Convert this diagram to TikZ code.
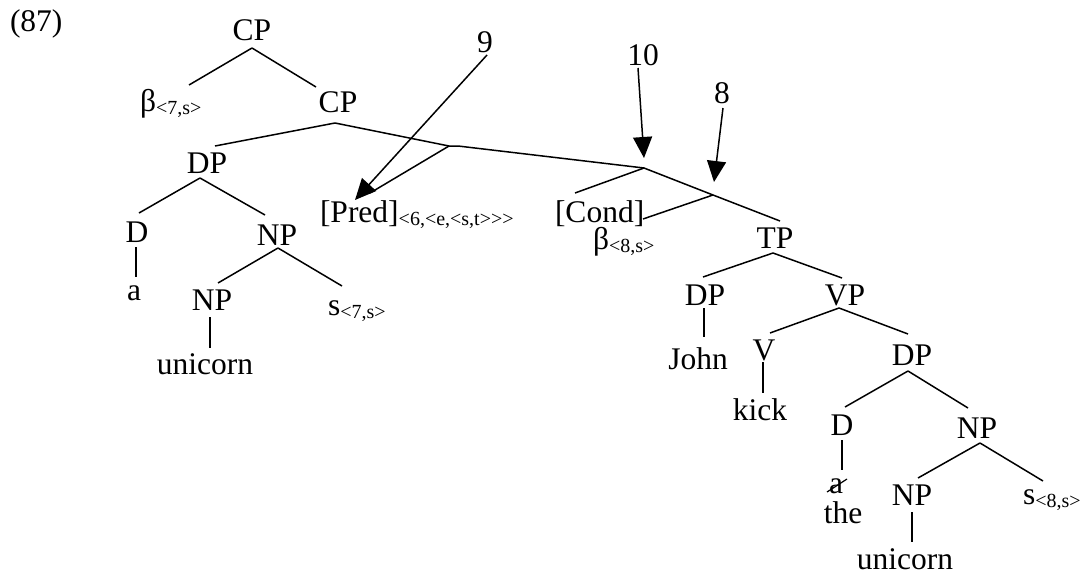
\documentclass[tikz,border=0pt]{standalone}
\usepackage{fontspec}
\setmainfont{Liberation Serif}
\usetikzlibrary{arrows.meta}
\newcommand\subsc[1]{\raisebox{-3pt}{\fontsize{20}{24}\selectfont #1}}
\begin{document}
\begin{tikzpicture}[x=1pt,y=-1pt,
  tx/.style={inner sep=0pt, outer sep=0pt, anchor=base, font=\fontsize{31.5}{36}\selectfont},
  txl/.style={tx, anchor=base west},
  br/.style={line width=1.5pt},
  mv/.style={line width=1.5pt, -{Triangle[length=21pt,width=19pt]}}]
\useasboundingbox (0,0) rectangle (1084,573);
% labels
\node[txl] (ex) at (10,31) {(87)};
\node[tx] (cp1) at (252,40) {CP};
\node[txl] (b7) at (140,111) {β\subsc{<7,s>}};
\node[tx] (cp2) at (338,112) {CP};
\node[tx] (dp1) at (207,173) {DP};
\node[tx] (d1) at (137,242) {D};
\node[tx] (a1) at (134,300) {a};
\node[tx] (np1) at (277,245) {NP};
\node[tx] (np2) at (212,310) {NP};
\node[tx] (uni1) at (205,374) {unicorn};
\node[txl] (s7) at (328,315) {s\subsc{<7,s>}};
\node[txl] (pred) at (320,222) {[Pred]\subsc{<6,<e,<s,t>\kern0pt>\kern0pt>}};
\node[txl] (cond) at (555,222) {[Cond]};
\node[txl] (b8) at (593,249) {β\subsc{<8,s>}};
\node[tx] (tp) at (775,248) {TP};
\node[tx] (dp3) at (705,305) {DP};
\node[tx] (john) at (698,369) {John};
\node[tx] (vp) at (845,305) {VP};
\node[tx] (v) at (764,360) {V};
\node[tx] (kick) at (760,420) {kick};
\node[tx] (dp4) at (912,365) {DP};
\node[tx] (d2) at (842,435) {D};
\node[tx] (a2) at (836,493) {a};
\node[tx] (the) at (843,523) {the};
\node[tx] (np3) at (977,438) {NP};
\node[tx] (np4) at (912,505) {NP};
\node[tx] (uni2) at (905,569) {unicorn};
\node[txl] (s8) at (1023,504) {s\subsc{<8,s>}};
\node[tx] (n9) at (485,52) {9};
\node[tx] (n10) at (643,65) {10};
\node[tx] (n8) at (722,103) {8};
% junction coordinates
\coordinate (j0) at (252,48);
\coordinate (j1) at (335,123);
\coordinate (x1) at (449,146);
\coordinate (x1b) at (458,146);
\coordinate (x2) at (644,168);
\coordinate (x3) at (713,195);
\coordinate (tpt) at (780,221);
\coordinate (predt) at (370,193);
\coordinate (condt) at (575,193);
\coordinate (b8t) at (643,219);
% branches
\draw[br] (j0) -- (189,85);
\draw[br] (j0) -- (316,87);
\draw[br] (j1) -- (215,146);
\draw[br] (j1) -- (x1) -- (x1b) -- (x2) -- (x3) -- (tpt);
\draw[br] (x1) -- (predt);
\draw[br] (x2) -- (condt);
\draw[br] (x3) -- (b8t);
\draw[br] (200,178) -- (139,213);
\draw[br] (200,178) -- (265,215);
\draw[br] (136,247) -- (136,277);
\draw[br] (278,248) -- (218,283);
\draw[br] (278,248) -- (342,286);
\draw[br] (210,317) -- (210,348);
\draw[br] (773,253) -- (703,277);
\draw[br] (773,253) -- (842,278);
\draw[br] (704,308) -- (704,337);
\draw[br] (839,308) -- (770,333);
\draw[br] (839,308) -- (908,334);
\draw[br] (763,362) -- (763,393);
\draw[br] (908,371) -- (845,407);
\draw[br] (908,371) -- (968,408);
\draw[br] (842,440) -- (842,470);
\draw[line width=1.2pt] (827,492) -- (847,479);
\draw[br] (980,443) -- (918,478);
\draw[br] (980,443) -- (1043,481);
\draw[br] (912,512) -- (912,542);
% movement arrows
\draw[mv] (487,55) -- (355,200);
\draw[mv] (638,68) -- (644,158);
\draw[mv] (723,108) -- (714,182);
\end{tikzpicture}
\end{document}
